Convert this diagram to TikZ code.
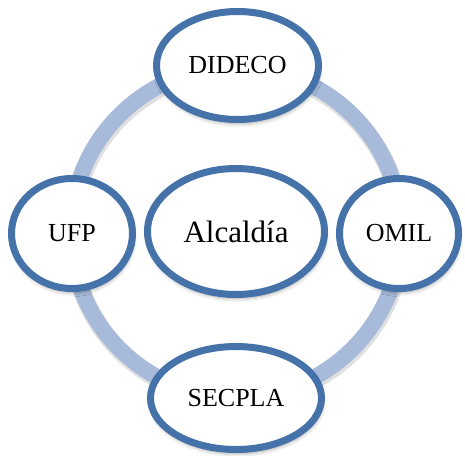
\documentclass[tikz,border=0pt]{standalone}
\usepackage{fontspec}
\setmainfont{Liberation Serif}
\usetikzlibrary{shapes.geometric,shadows.blur}
\definecolor{ovalblue}{RGB}{70,114,170}
\definecolor{ringblue}{RGB}{168,186,218}
\tikzset{
  oval/.style={ellipse, draw=ovalblue, line width=7pt, fill=white, inner sep=0pt,
    font=\fontsize{26}{30}\selectfont,
    blur shadow={shadow xshift=1pt, shadow yshift=-4pt, shadow blur radius=4pt, shadow opacity=35}},
  ringstyle/.style={circle, draw=ringblue, line width=16pt, inner sep=0pt},
  ringshade/.style={circle, draw=black, draw opacity=0.12, line width=18pt, inner sep=0pt}
}
\begin{document}
\begin{tikzpicture}[x=1pt,y=-1pt]
\useasboundingbox (0,0) rectangle (465,455);
\node[ringshade, minimum size=330pt] (ringshadow) at (237,234.5) {};
\node[ringstyle, minimum size=330pt] (ring) at (236,232) {};
\node[oval, minimum width=177pt, minimum height=126pt, font=\fontsize{31}{36}\selectfont] (alc) at (236,231.5) {Alcaldía};
\node[oval, minimum width=162pt, minimum height=108pt] (dideco) at (237.5,65.5) {DIDECO};
\node[oval, minimum width=121pt, minimum height=110pt] (ufp) at (72,233.5) {UFP};
\node[oval, minimum width=119pt, minimum height=110pt] (omil) at (399,233.5) {OMIL};
\node[oval, minimum width=171pt, minimum height=103pt] (secpla) at (236,398) {SECPLA};
\end{tikzpicture}
\end{document}
